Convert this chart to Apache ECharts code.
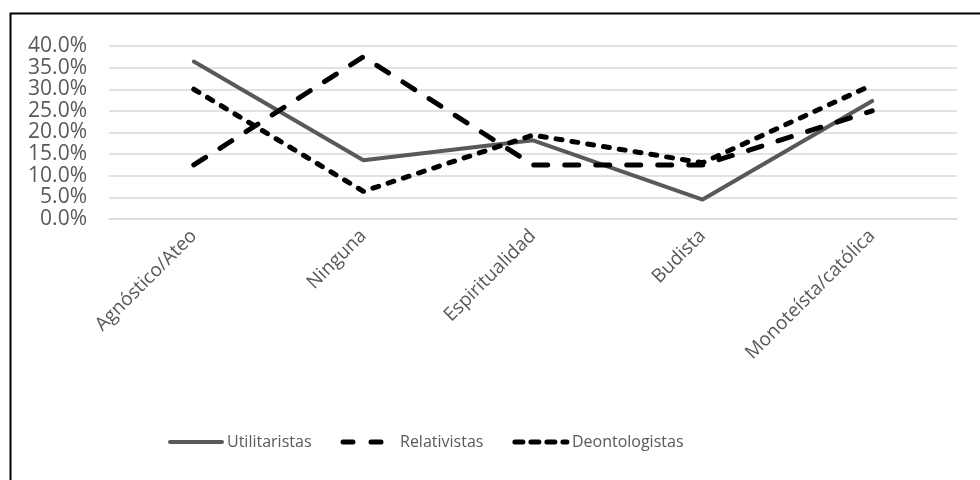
<!DOCTYPE html>
<html>
<head>
<meta charset="utf-8">
<script src="https://cdn.jsdelivr.net/npm/echarts@6/dist/echarts.min.js"></script>
<style>
  html, body { margin: 0; padding: 0; background: #fff; }
  #main { width: 980px; height: 480px; }
</style>
</head>
<body>
<div id="main"></div>
<script>
// data
const categories = ['Agnóstico/Ateo', 'Ninguna', 'Espiritualidad', 'Budista', 'Monoteísta/católica'];
const utilitaristas = [36.4, 13.6, 18.2, 4.5, 27.3];
const relativistas = [12.5, 37.5, 12.5, 12.5, 25.0];
const deontologistas = [30.0, 6.4, 19.4, 13.0, 31.0];
const seriesNames = ['Utilitaristas', 'Relativistas', 'Deontologistas'];

const font = '"Open Sans", "Noto Sans", sans-serif';
const textColor = '#595959';

const myChart = echarts.init(document.getElementById('main'));

const option = {
  backgroundColor: '#fff',
  animation: false,
  // outer frame of the chart
  graphic: [{
    type: 'rect',
    left: 8, top: 11,
    shape: { width: 990, height: 490 },
    style: { fill: 'none', stroke: '#000', lineWidth: 2 }
  }],
  grid: { left: 109, right: 23, top: 46, bottom: 261 },
  legend: {
    data: [
      { name: seriesNames[0], lineStyle: { width: 4, cap: 'round' } },
      { name: seriesNames[1], lineStyle: { width: 5, cap: 'round', type: [10, 18] } },
      { name: seriesNames[2], lineStyle: { width: 5, cap: 'round', type: [8, 8] } }
    ],
    top: 429,
    left: 163,
    itemWidth: 52,
    itemHeight: 14,
    itemGap: 29,
    itemStyle: { opacity: 0 },
    textStyle: { color: textColor, fontSize: 16, fontFamily: font }
  },
  xAxis: {
    type: 'category',
    data: categories,
    boundaryGap: true,
    axisLine: { lineStyle: { color: '#d9d9d9', width: 1.5 } },
    axisTick: { show: false },
    axisLabel: {
      rotate: 45,
      interval: 0,
      margin: 14,
      color: textColor,
      fontSize: 19,
      fontFamily: font
    }
  },
  yAxis: {
    type: 'value',
    min: 0, max: 40, interval: 5,
    axisLine: { show: false },
    axisTick: { show: false },
    splitLine: { lineStyle: { color: '#d9d9d9', width: 1.5 } },
    axisLabel: {
      margin: 22,
      color: textColor,
      fontSize: 21,
      fontFamily: font,
      formatter: v => v.toFixed(1) + '%'
    }
  },
  series: [
    {
      name: seriesNames[0],
      type: 'line',
      data: utilitaristas,
      symbol: 'none',
      itemStyle: { color: '#595959' },
      lineStyle: { color: '#595959', width: 4, cap: 'round', join: 'round' }
    },
    {
      name: seriesNames[1],
      type: 'line',
      data: relativistas,
      symbol: 'none',
      itemStyle: { color: '#000' },
      lineStyle: { color: '#000', width: 5, type: [14, 17], cap: 'round', join: 'round' }
    },
    {
      name: seriesNames[2],
      type: 'line',
      data: deontologistas,
      symbol: 'none',
      itemStyle: { color: '#000' },
      lineStyle: { color: '#000', width: 5, type: [6, 10], cap: 'round', join: 'round' }
    }
  ]
};

option && myChart.setOption(option);
</script>
</body>
</html>
